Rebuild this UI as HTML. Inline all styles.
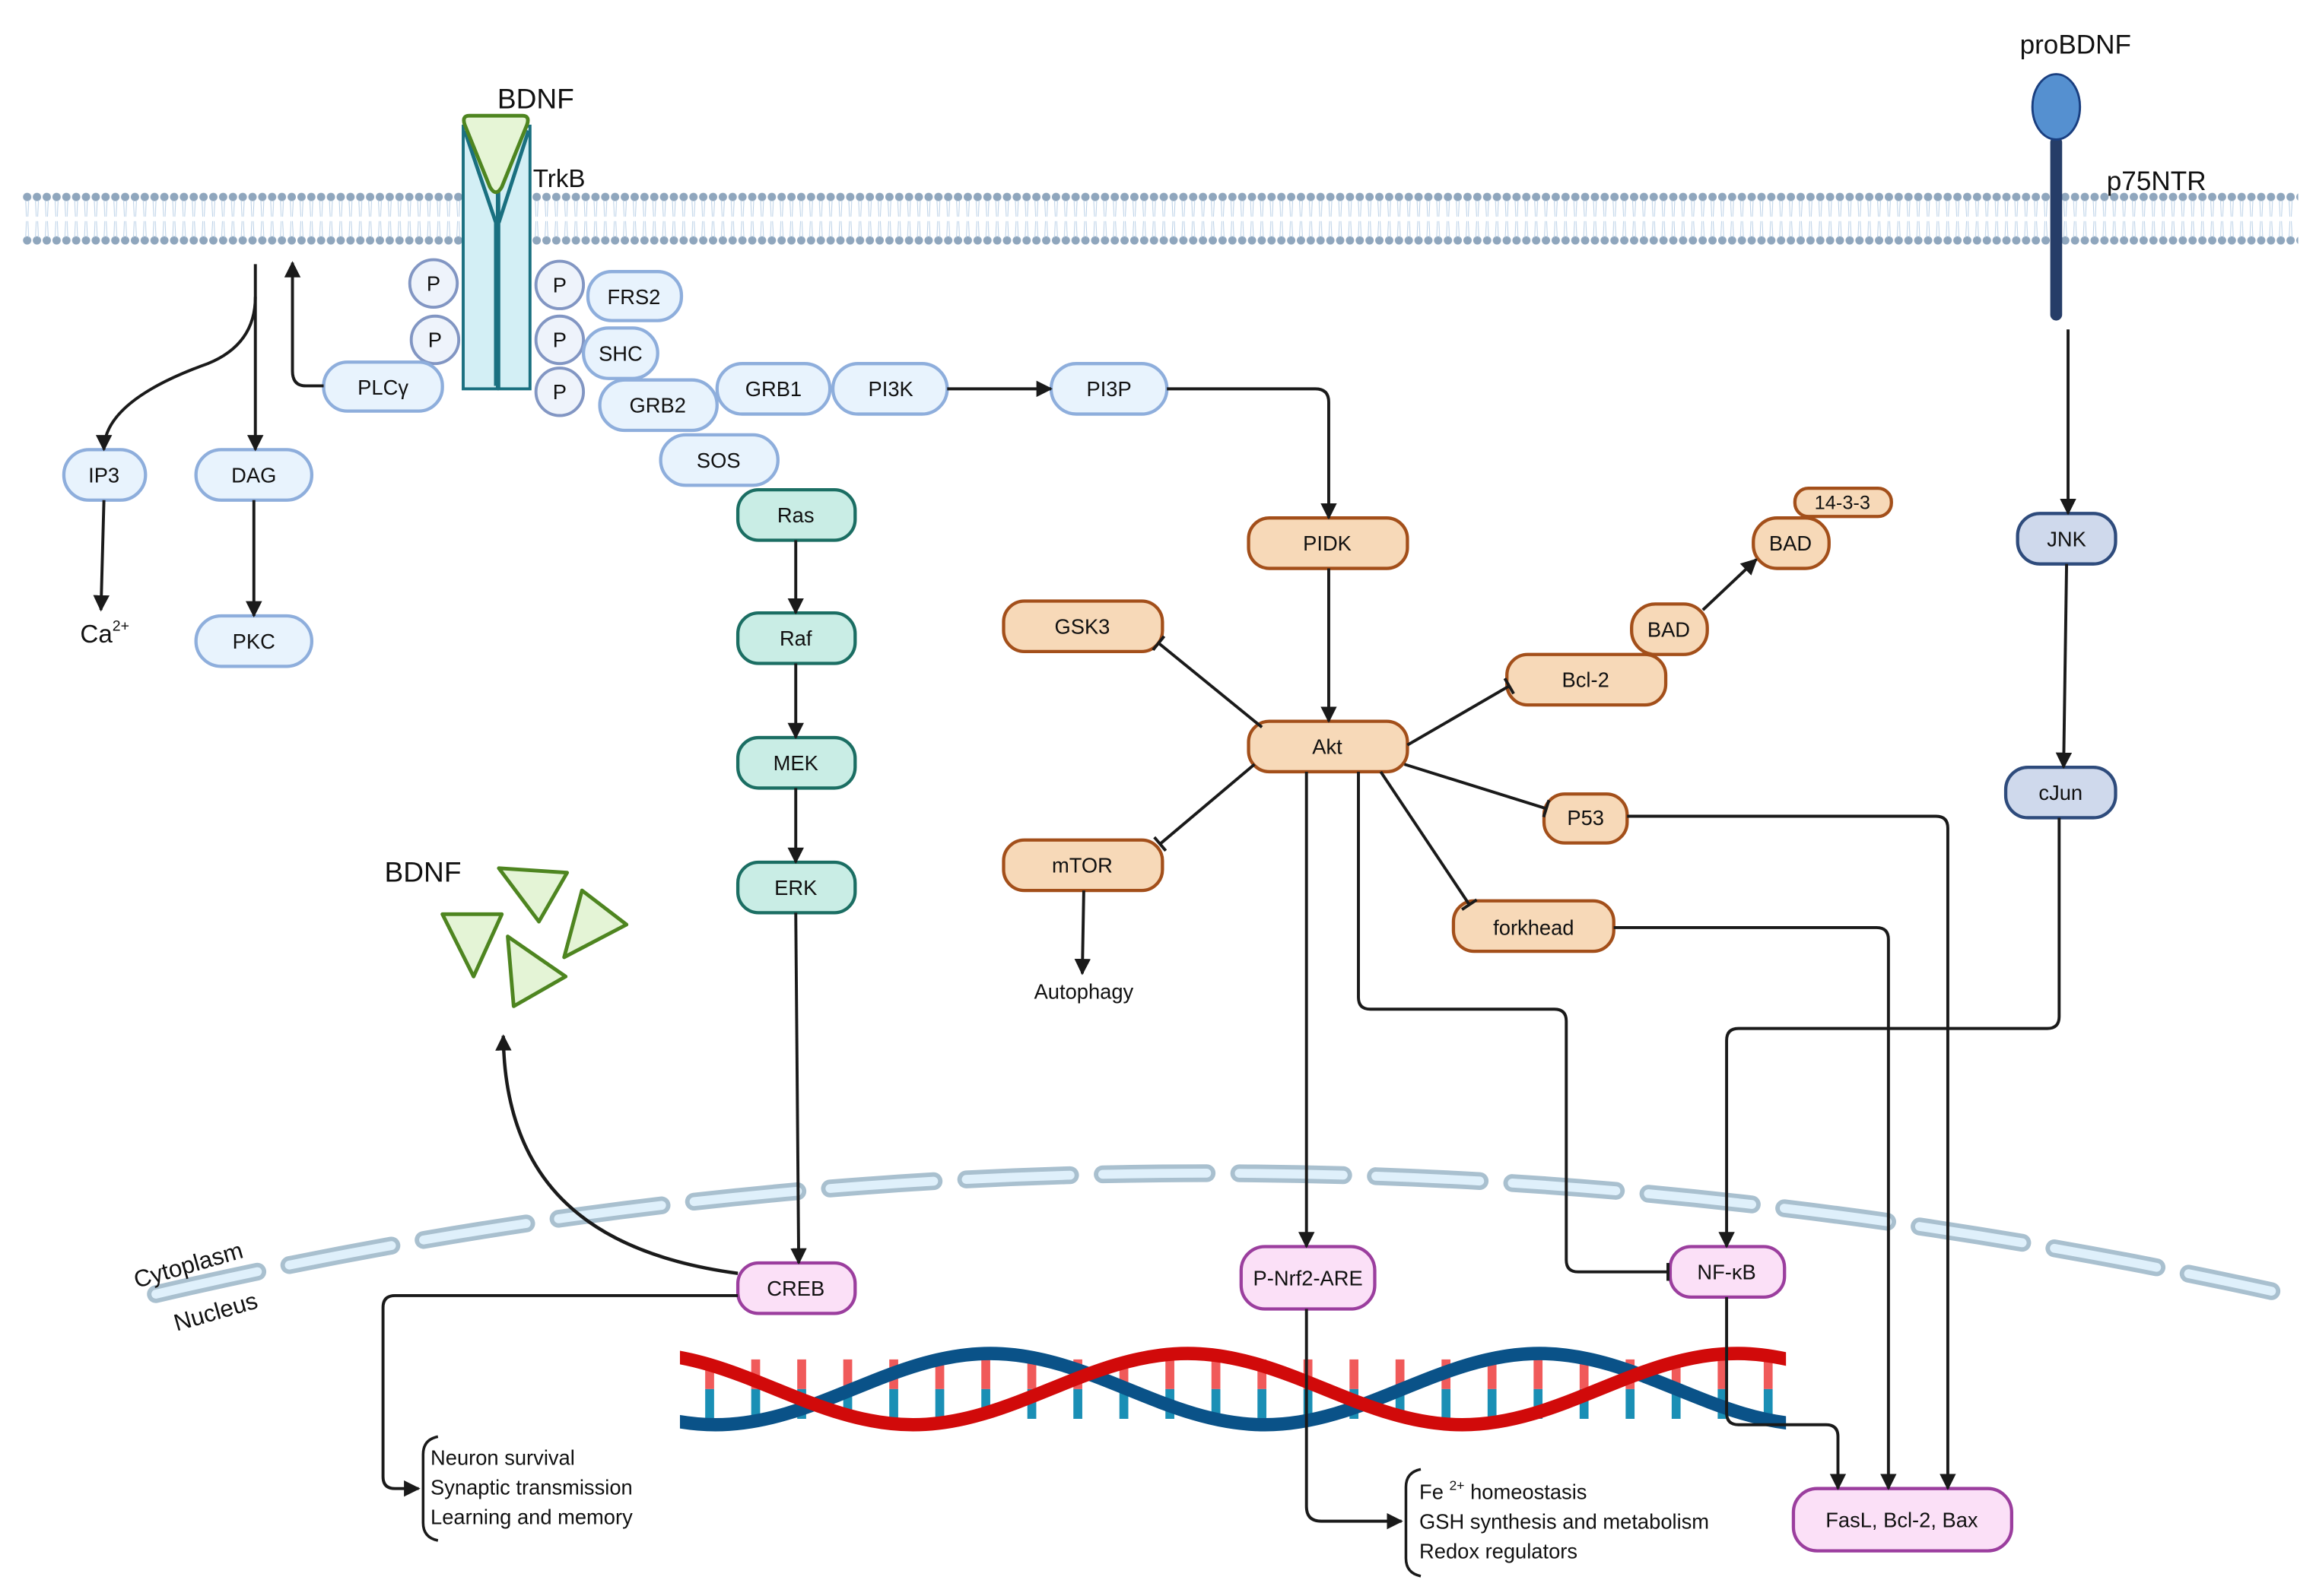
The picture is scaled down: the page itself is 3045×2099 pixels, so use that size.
<!DOCTYPE html>
<html><head><meta charset="utf-8"><style>
html,body{margin:0;padding:0;background:#fff}
svg{display:block}
text{font-family:"Liberation Sans",sans-serif;fill:#111}
</style></head><body>
<svg width="3045" height="2099" viewBox="0 0 1560 1075.4" preserveAspectRatio="none" xmlns="http://www.w3.org/2000/svg">
<defs>
<marker id="ar" viewBox="0 0 10 10" refX="9" refY="5" markerWidth="11" markerHeight="11" markerUnits="userSpaceOnUse" orient="auto"><path d="M0,0 L10,5 L0,10 z" fill="#1a1a1a"/></marker>
<marker id="bar" viewBox="0 0 4 12" refX="2" refY="6" markerWidth="4" markerHeight="12" markerUnits="userSpaceOnUse" orient="auto"><rect x="0.5" y="0" width="2" height="12" fill="#1a1a1a"/></marker>
<pattern id="mem" x="15" y="128" width="6.6" height="38" patternUnits="userSpaceOnUse">
<circle cx="3.3" cy="4.7" r="2.8" fill="#8fa6bd"/>
<circle cx="3.3" cy="34" r="2.8" fill="#8fa6bd"/>
<path d="M2.3,7 L2.8,18 M4.3,7 L3.8,18 M2.3,32 L2.8,21 M4.3,32 L3.8,21" stroke="#b8cfe6" stroke-width="0.5"/>
</pattern>
<clipPath id="dnaclip"><rect x="458" y="890" width="745" height="90"/></clipPath>
</defs>

<!-- membrane -->
<rect x="15" y="128" width="1533" height="38" fill="url(#mem)"/>

<!-- nuclear envelope -->
<path d="M105,872 Q800,710 1530,870" fill="none" stroke="#a9c0cf" stroke-width="12" stroke-dasharray="70,22" stroke-linecap="round"/>
<path d="M105,872 Q800,710 1530,870" fill="none" stroke="#dff0fb" stroke-width="6" stroke-dasharray="70,22" stroke-linecap="round"/>
<text x="92" y="868" font-size="16" transform="rotate(-16 92 868)">Cytoplasm</text>
<text x="119" y="897" font-size="16" transform="rotate(-16 119 897)">Nucleus</text>

<!-- TrkB receptor -->
<rect x="312" y="85" width="23" height="177" fill="#d3eff5" stroke="#1a7080" stroke-width="2"/>
<rect x="336" y="85" width="21" height="177" fill="#d3eff5" stroke="#1a7080" stroke-width="2"/>
<path d="M313,88 L334,150 L334,260 M356,88 L336,150" fill="none" stroke="#1a7080" stroke-width="2.5"/>
<path d="M316,78 L352,78 Q357,78 355,84 L338,126 Q334,133 330,126 L313,84 Q311,78 316,78 z" fill="#e6f5d6" stroke="#4e8520" stroke-width="2.5"/>
<text x="335" y="73" font-size="19">BDNF</text>
<text x="359" y="126" font-size="17">TrkB</text>

<!-- P circles -->
<g fill="#eef3fb" stroke="#8296c3" stroke-width="2">
<circle cx="292" cy="191" r="16"/><circle cx="293" cy="229" r="16"/>
<circle cx="377" cy="192" r="16"/><circle cx="377" cy="229" r="16"/><circle cx="377" cy="264" r="16"/>
</g>
<g font-size="14" text-anchor="middle">
<text x="292" y="196">P</text><text x="293" y="234">P</text>
<text x="377" y="197">P</text><text x="377" y="234">P</text><text x="377" y="269">P</text>
</g>

<!-- light blue nodes -->
<g fill="#e8f3fd" stroke="#8eaedc" stroke-width="2.2">
<rect x="218" y="244" width="80" height="33" rx="16"/>
<rect x="396" y="183" width="63" height="33" rx="16"/>
<rect x="393" y="221" width="50" height="34" rx="17"/>
<rect x="404" y="256" width="79" height="34" rx="17"/>
<rect x="483" y="245" width="76" height="34" rx="17"/>
<rect x="561" y="245" width="77" height="34" rx="17"/>
<rect x="445" y="293" width="79" height="34" rx="17"/>
<rect x="708" y="245" width="78" height="34" rx="17"/>
<rect x="43" y="303" width="55" height="34" rx="17"/>
<rect x="132" y="303" width="78" height="34" rx="17"/>
<rect x="132" y="415" width="78" height="34" rx="17"/>
</g>
<g font-size="14" text-anchor="middle">
<text x="258" y="266">PLCγ</text><text x="427" y="205">FRS2</text><text x="418" y="243">SHC</text>
<text x="443" y="278">GRB2</text><text x="521" y="267">GRB1</text><text x="600" y="267">PI3K</text>
<text x="484" y="315">SOS</text><text x="747" y="267">PI3P</text>
<text x="70" y="325">IP3</text><text x="171" y="325">DAG</text><text x="171" y="437">PKC</text>
</g>
<text x="54" y="433" font-size="17">Ca<tspan font-size="10" dy="-8">2+</tspan></text>

<!-- teal nodes -->
<g fill="#c9ede5" stroke="#1b6e63" stroke-width="2.2">
<rect x="497" y="330" width="79" height="34" rx="14"/>
<rect x="497" y="413" width="79" height="34" rx="14"/>
<rect x="497" y="497" width="79" height="34" rx="14"/>
<rect x="497" y="581" width="79" height="34" rx="14"/>
</g>
<g font-size="14" text-anchor="middle">
<text x="536" y="352">Ras</text><text x="536" y="435">Raf</text><text x="536" y="519">MEK</text><text x="536" y="603">ERK</text>
</g>

<!-- orange nodes -->
<g fill="#f7d9b8" stroke="#a34f1a" stroke-width="2.2">
<rect x="841" y="349" width="107" height="34" rx="14"/>
<rect x="841" y="486" width="107" height="34" rx="14"/>
<rect x="676" y="405" width="107" height="34" rx="14"/>
<rect x="676" y="566" width="107" height="34" rx="14"/>
<rect x="1015" y="441" width="107" height="34" rx="14"/>
<rect x="1099" y="407" width="51" height="34" rx="16"/>
<rect x="1181" y="349" width="51" height="34" rx="16"/>
<rect x="1209" y="329" width="65" height="19" rx="9"/>
<rect x="1040" y="535" width="56" height="33" rx="14"/>
<rect x="979" y="607" width="108" height="34" rx="14"/>
</g>
<g font-size="14" text-anchor="middle">
<text x="894" y="371">PIDK</text><text x="894" y="508">Akt</text><text x="729" y="427">GSK3</text>
<text x="729" y="588">mTOR</text><text x="1068" y="463">Bcl-2</text><text x="1124" y="429">BAD</text>
<text x="1206" y="371">BAD</text><text x="1241" y="343" font-size="13">14-3-3</text>
<text x="1068" y="556">P53</text><text x="1033" y="630">forkhead</text>
</g>
<text x="730" y="673" font-size="14" text-anchor="middle">Autophagy</text>

<!-- navy nodes -->
<g fill="#cfd9ec" stroke="#2e4b7c" stroke-width="2.2">
<rect x="1359" y="346" width="66" height="34" rx="15"/>
<rect x="1351" y="517" width="74" height="34" rx="15"/>
</g>
<g font-size="14" text-anchor="middle"><text x="1392" y="368">JNK</text><text x="1388" y="539">cJun</text></g>

<!-- p75NTR -->
<rect x="1381" y="92" width="8" height="124" rx="4" fill="#263d68"/>
<ellipse cx="1385" cy="72" rx="16" ry="22" fill="#5590d0" stroke="#1a3f80" stroke-width="1.5"/>
<text x="1398" y="36" font-size="18" text-anchor="middle">proBDNF</text>
<text x="1419" y="128" font-size="18">p75NTR</text>

<!-- pink nodes -->
<g fill="#fbe0f7" stroke="#9b3e9e" stroke-width="2.2">
<rect x="497" y="851" width="79" height="34" rx="14"/>
<rect x="836" y="840" width="90" height="42" rx="16"/>
<rect x="1125" y="840" width="77" height="34" rx="14"/>
<rect x="1208" y="1003" width="147" height="42" rx="16"/>
</g>
<g font-size="14" text-anchor="middle">
<text x="536" y="873">CREB</text><text x="881" y="866">P-Nrf2-ARE</text><text x="1163" y="862">NF-κB</text>
<text x="1281" y="1029">FasL, Bcl-2, Bax</text>
</g>

<!-- BDNF cluster -->
<g fill="#e4f4d6" stroke="#4e8520" stroke-width="2.5" stroke-linejoin="round">
<path d="M336,585 L382,588 L363,621 z"/>
<path d="M298,616 L338,616 L319,658 z"/>
<path d="M392,600 L422,623 L380,645 z"/>
<path d="M342,631 L381,658 L346,678 z"/>
</g>
<text x="259" y="594" font-size="19">BDNF</text>

<!-- DNA -->
<g clip-path="url(#dnaclip)">
<g stroke-width="6">
<path d="M478,916 V936 M509,916 V936 M540,916 V936 M571,916 V936 M602,916 V936 M633,916 V936 M664,916 V936 M695,916 V936 M726,916 V936 M757,916 V936 M788,916 V936 M819,916 V936 M850,916 V936 M881,916 V936 M912,916 V936 M943,916 V936 M974,916 V936 M1005,916 V936 M1036,916 V936 M1067,916 V936 M1098,916 V936 M1129,916 V936 M1160,916 V936 M1191,916 V936" stroke="#f05a5a"/>
<path d="M478,936 V956 M509,936 V956 M540,936 V956 M571,936 V956 M602,936 V956 M633,936 V956 M664,936 V956 M695,936 V956 M726,936 V956 M757,936 V956 M788,936 V956 M819,936 V956 M850,936 V956 M881,936 V956 M912,936 V956 M943,936 V956 M974,936 V956 M1005,936 V956 M1036,936 V956 M1067,936 V956 M1098,936 V956 M1129,936 V956 M1160,936 V956 M1191,936 V956" stroke="#1a8fb5"/>
</g>
<path d="M297,912 C364,912 415,960 482,960 C549,960 600,912 667,912 C734,912 785,960 852,960 C919,960 970,912 1037,912 C1104,912 1155,960 1222,960" fill="none" stroke="#0a5288" stroke-width="9"/>
<path d="M430,912 C497,912 548,960 615,960 C682,960 733,912 800,912 C867,912 918,960 985,960 C1052,960 1103,912 1170,912 C1237,912 1288,960 1355,960" fill="none" stroke="#d10a0a" stroke-width="9"/>
</g>

<!-- connectors -->
<g fill="none" stroke="#1a1a1a" stroke-width="2">
<path d="M172,178 V303" marker-end="url(#ar)"/>
<path d="M172,200 Q172,232 140,245 Q70,270 70,303" marker-end="url(#ar)"/>
<path d="M70,337 L68,411" marker-end="url(#ar)"/>
<path d="M171,337 V415" marker-end="url(#ar)"/>
<path d="M218,260 H206 Q197,260 197,250 V177" marker-end="url(#ar)"/>
<path d="M638,262 H708" marker-end="url(#ar)"/>
<path d="M786,262 H886 Q895,262 895,271 V349" marker-end="url(#ar)"/>
<path d="M895,383 V486" marker-end="url(#ar)"/>
<path d="M536,364 V413" marker-end="url(#ar)"/>
<path d="M536,447 V497" marker-end="url(#ar)"/>
<path d="M536,531 V581" marker-end="url(#ar)"/>
<path d="M536,615 L538,851" marker-end="url(#ar)"/>
<path d="M850,490 L780,433" marker-end="url(#bar)"/>
<path d="M845,515 L781,569" marker-end="url(#bar)"/>
<path d="M948,502 L1017,462" marker-end="url(#bar)"/>
<path d="M1147,411 L1183,377" marker-end="url(#ar)"/>
<path d="M946,515 L1042,545" marker-end="url(#bar)"/>
<path d="M930,520 L990,610" marker-end="url(#bar)"/>
<path d="M730,600 L729,656" marker-end="url(#ar)"/>
<path d="M880,520 V840" marker-end="url(#ar)"/>
<path d="M915,520 V672 Q915,680 923,680 H1047 Q1055,680 1055,688 V849 Q1055,857 1063,857 H1124" marker-end="url(#bar)"/>
<path d="M1096,550 H1304 Q1312,550 1312,558 V1003" marker-end="url(#ar)"/>
<path d="M1087,625 H1264 Q1272,625 1272,633 V1003" marker-end="url(#ar)"/>
<path d="M1393,222 V346" marker-end="url(#ar)"/>
<path d="M1392,380 L1390,517" marker-end="url(#ar)"/>
<path d="M1387,551 V685 Q1387,693 1379,693 H1171 Q1163,693 1163,701 V840" marker-end="url(#ar)"/>
<path d="M1163,874 V952 Q1163,960 1171,960 H1230 Q1238,960 1238,968 V1003" marker-end="url(#ar)"/>
<path d="M497,858 C400,845 340,800 339,698" marker-end="url(#ar)" stroke-width="2.3"/>
<path d="M497,873 H266 Q258,873 258,881 V995 Q258,1003 266,1003 H282" marker-end="url(#ar)"/>
<path d="M880,882 V1015 Q880,1025 890,1025 H944" marker-end="url(#ar)"/>
<path d="M295,968 Q285,970 285,980 V1026 Q285,1036 295,1038" stroke-width="1.8"/>
<path d="M957,990 Q947,992 947,1002 V1050 Q947,1060 957,1062" stroke-width="1.8"/>
</g>
<g font-size="14">
<text x="290" y="987">Neuron survival</text>
<text x="290" y="1007">Synaptic transmission</text>
<text x="290" y="1027">Learning and memory</text>
<text x="956" y="1010">Fe <tspan font-size="9" dy="-6">2+</tspan><tspan dy="6"> homeostasis</tspan></text>
<text x="956" y="1030">GSH synthesis and metabolism</text>
<text x="956" y="1050">Redox regulators</text>
</g>
</svg>
</body></html>
